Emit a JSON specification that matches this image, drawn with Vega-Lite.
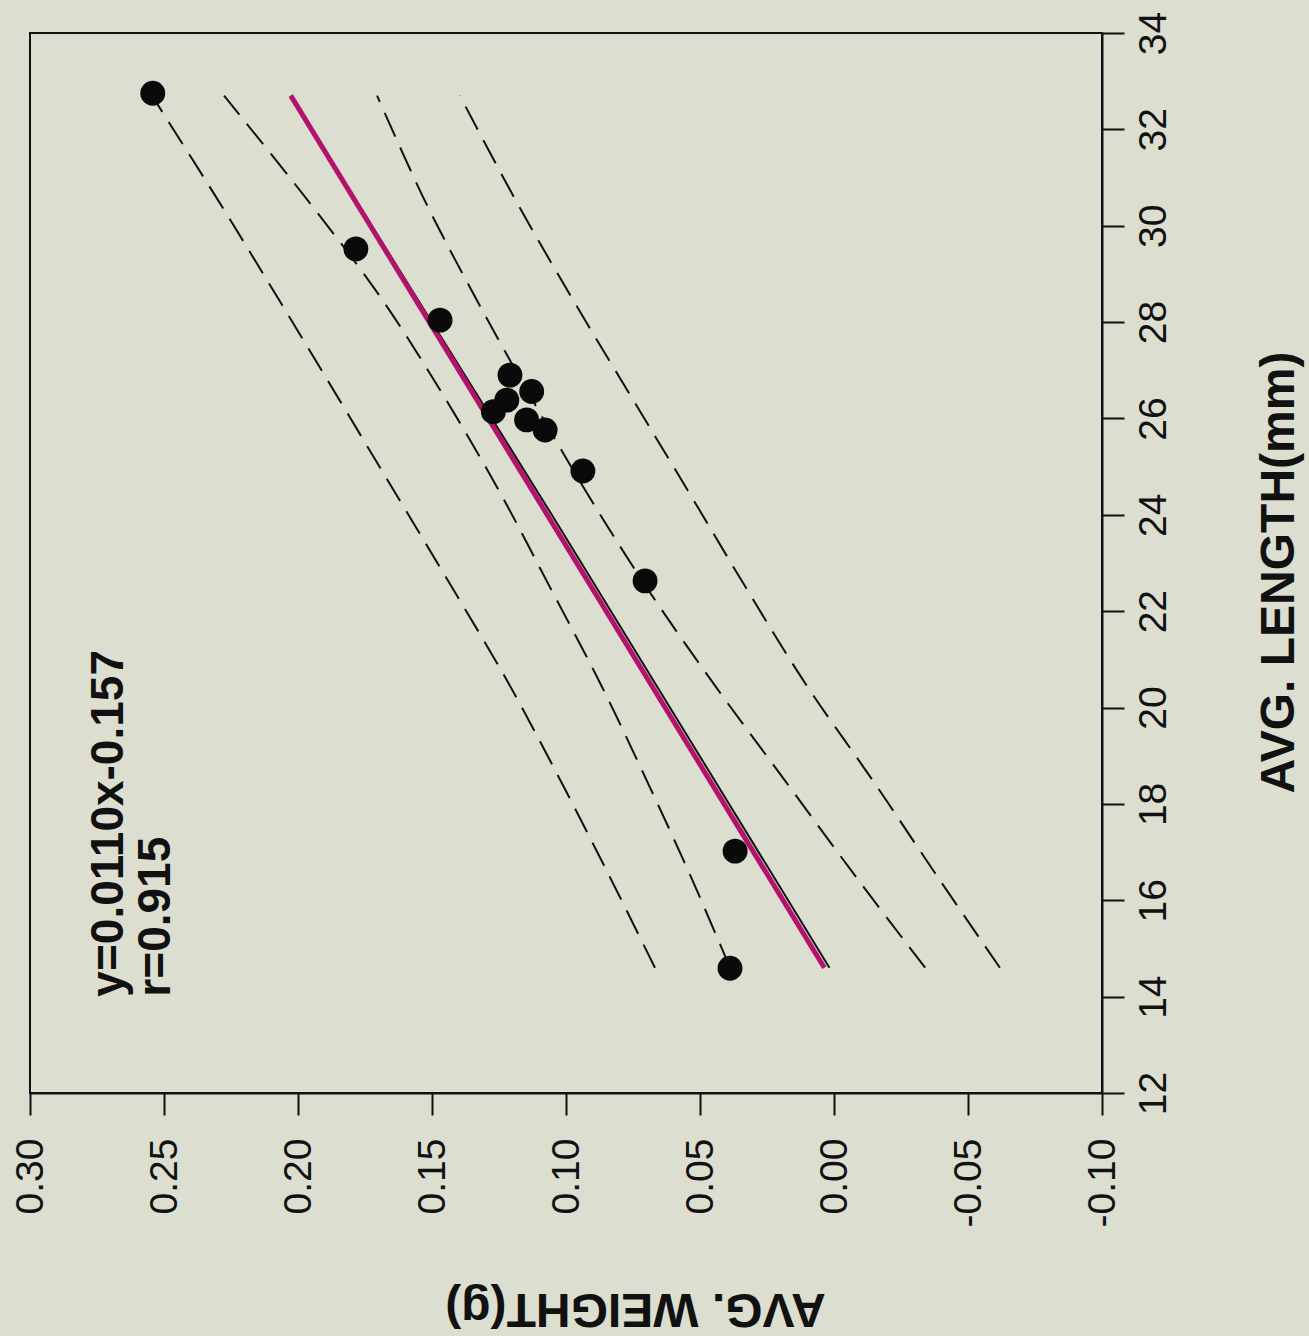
{
  "$schema": "https://vega.github.io/schema/vega-lite/v6.json",
  "width": 1072,
  "height": 1060,
  "autosize": {"type": "none"},
  "padding": {"left": 30, "top": 33, "right": 207, "bottom": 243},
  "background": "#dcdecf",
  "config": {
    "view": {"stroke": "#111111", "strokeWidth": 2},
    "font": "Liberation Sans"
  },
  "datasets": {
    "fish": [
      {"length": 32.75, "weight": 0.2542},
      {"length": 29.52, "weight": 0.1784},
      {"length": 28.04, "weight": 0.1470},
      {"length": 26.90, "weight": 0.1209},
      {"length": 26.56, "weight": 0.1128},
      {"length": 26.38, "weight": 0.1221},
      {"length": 26.14, "weight": 0.1271},
      {"length": 25.97, "weight": 0.1147},
      {"length": 25.76, "weight": 0.1078},
      {"length": 24.91, "weight": 0.0937},
      {"length": 22.63, "weight": 0.0705},
      {"length": 17.02, "weight": 0.0369},
      {"length": 14.59, "weight": 0.0388}
    ],
    "bands": [
      {"series": "pred_hi", "length": 14.6, "weight": 0.0668},
      {"series": "pred_hi", "length": 16.5, "weight": 0.0838},
      {"series": "pred_hi", "length": 18.5, "weight": 0.1022},
      {"series": "pred_hi", "length": 20.5, "weight": 0.1214},
      {"series": "pred_hi", "length": 22.5, "weight": 0.1426},
      {"series": "pred_hi", "length": 24.5, "weight": 0.1642},
      {"series": "pred_hi", "length": 26.5, "weight": 0.1858},
      {"series": "pred_hi", "length": 28.5, "weight": 0.2075},
      {"series": "pred_hi", "length": 30.5, "weight": 0.2295},
      {"series": "pred_hi", "length": 32.7, "weight": 0.2545},
      {"series": "conf_hi", "length": 14.6, "weight": 0.0388},
      {"series": "conf_hi", "length": 16.5, "weight": 0.0535},
      {"series": "conf_hi", "length": 18.5, "weight": 0.0700},
      {"series": "conf_hi", "length": 20.5, "weight": 0.0872},
      {"series": "conf_hi", "length": 22.5, "weight": 0.1060},
      {"series": "conf_hi", "length": 24.5, "weight": 0.1250},
      {"series": "conf_hi", "length": 26.5, "weight": 0.1460},
      {"series": "conf_hi", "length": 28.5, "weight": 0.1690},
      {"series": "conf_hi", "length": 30.5, "weight": 0.1960},
      {"series": "conf_hi", "length": 32.7, "weight": 0.2276},
      {"series": "conf_lo", "length": 14.6, "weight": -0.0340},
      {"series": "conf_lo", "length": 16.5, "weight": -0.0080},
      {"series": "conf_lo", "length": 18.5, "weight": 0.0185},
      {"series": "conf_lo", "length": 20.5, "weight": 0.0450},
      {"series": "conf_lo", "length": 22.5, "weight": 0.0700},
      {"series": "conf_lo", "length": 24.5, "weight": 0.0927},
      {"series": "conf_lo", "length": 26.5, "weight": 0.1137},
      {"series": "conf_lo", "length": 28.5, "weight": 0.1337},
      {"series": "conf_lo", "length": 30.5, "weight": 0.1525},
      {"series": "conf_lo", "length": 32.7, "weight": 0.1705},
      {"series": "pred_lo", "length": 14.6, "weight": -0.0619},
      {"series": "pred_lo", "length": 16.5, "weight": -0.0385},
      {"series": "pred_lo", "length": 18.5, "weight": -0.0143},
      {"series": "pred_lo", "length": 20.5, "weight": 0.0107},
      {"series": "pred_lo", "length": 22.5, "weight": 0.0330},
      {"series": "pred_lo", "length": 24.5, "weight": 0.0545},
      {"series": "pred_lo", "length": 26.5, "weight": 0.0762},
      {"series": "pred_lo", "length": 28.5, "weight": 0.0978},
      {"series": "pred_lo", "length": 30.5, "weight": 0.1185},
      {"series": "pred_lo", "length": 32.7, "weight": 0.1396}
    ],
    "fitShadow": [
      {"length": 14.6, "weight": 0.0017},
      {"length": 24.0, "weight": 0.1053},
      {"length": 32.7, "weight": 0.2027}
    ],
    "fit": [
      {"length": 14.6, "weight": 0.0036},
      {"length": 32.7, "weight": 0.2027}
    ],
    "notes": [
      {"label": "y=0.0110x-0.157", "length": 14.0, "weight": 0.2652},
      {"label": "r=0.915", "length": 14.0, "weight": 0.2478}
    ]
  },
  "encoding": {
    "x": {
      "field": "weight",
      "type": "quantitative",
      "scale": {"domain": [-0.1, 0.3], "reverse": true, "nice": false, "zero": false},
      "axis": {
        "orient": "bottom",
        "title": "AVG. WEIGHT(g)",
        "values": [-0.1, -0.05, 0, 0.05, 0.1, 0.15, 0.2, 0.25, 0.3],
        "labelExpr": "datum.value < 0 ? '-' + format(-datum.value, '.2f') : format(datum.value, '.2f')",
        "labelAngle": -90,
        "labelAlign": "right",
        "labelBaseline": "middle",
        "labelFont": "Liberation Sans",
        "labelFontSize": 39,
        "labelColor": "#111111",
        "labelPadding": 23,
        "labelFlush": false,
        "labelOverlap": false,
        "tickSize": 22,
        "tickWidth": 2,
        "tickColor": "#111111",
        "domainColor": "#111111",
        "domainWidth": 2,
        "grid": false,
        "titleFont": "Liberation Sans",
        "titleFontSize": 48,
        "titleFontWeight": "bold",
        "titleColor": "#111111",
        "titleAngle": 180,
        "titleAlign": "center",
        "titleBaseline": "alphabetic",
        "titleX": 605,
        "titleY": 200
      }
    },
    "y": {
      "field": "length",
      "type": "quantitative",
      "scale": {"domain": [12, 34], "nice": false, "zero": false},
      "axis": {
        "orient": "right",
        "title": "AVG. LENGTH(mm)",
        "values": [12, 14, 16, 18, 20, 22, 24, 26, 28, 30, 32, 34],
        "labelAngle": -90,
        "labelAlign": "center",
        "labelBaseline": "top",
        "labelFont": "Liberation Sans",
        "labelFontSize": 39,
        "labelColor": "#111111",
        "labelPadding": 10,
        "labelFlush": false,
        "labelOverlap": false,
        "tickSize": 22,
        "tickWidth": 2,
        "tickColor": "#111111",
        "domainColor": "#111111",
        "domainWidth": 2,
        "grid": false,
        "titleFont": "Liberation Sans",
        "titleFontSize": 48,
        "titleFontWeight": "bold",
        "titleColor": "#111111",
        "titleAngle": -90,
        "titleAlign": "center",
        "titleBaseline": "alphabetic",
        "titleX": 191,
        "titleY": 539
      }
    }
  },
  "layer": [
    {
      "data": {"name": "bands"},
      "mark": {"type": "line", "color": "#111111", "strokeWidth": 2, "strokeDash": [26, 12], "interpolate": "catmull-rom"},
      "encoding": {
        "detail": {"field": "series", "type": "nominal"},
        "order": {"field": "length", "type": "quantitative"}
      }
    },
    {
      "data": {"name": "fitShadow"},
      "mark": {"type": "line", "color": "#111111", "strokeWidth": 2},
      "encoding": {"order": {"field": "length", "type": "quantitative"}}
    },
    {
      "data": {"name": "fit"},
      "mark": {"type": "line", "color": "#b3126f", "strokeWidth": 5},
      "encoding": {"order": {"field": "length", "type": "quantitative"}}
    },
    {
      "data": {"name": "fish"},
      "mark": {"type": "circle", "color": "#0a0a0a", "size": 620, "opacity": 1}
    },
    {
      "data": {"name": "notes"},
      "mark": {"type": "text", "angle": -90, "align": "left", "baseline": "alphabetic", "font": "Liberation Sans", "fontWeight": "bold", "fontSize": 46, "color": "#111111"},
      "encoding": {"text": {"field": "label", "type": "nominal"}}
    }
  ]
}
